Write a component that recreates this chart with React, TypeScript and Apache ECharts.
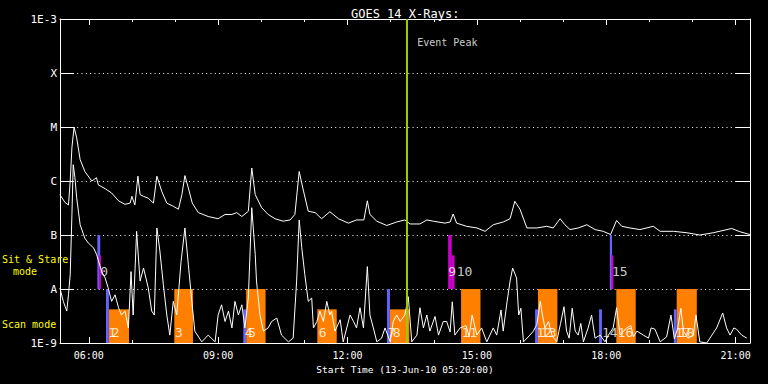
import React, { useEffect, useRef } from 'react';
import * as echarts from 'echarts';

const FONT = 'DejaVu Sans Mono';

// Axis definitions
const axisStart = '05:20';
const axisEnd = '21:20';
const xTickHours = [6, 9, 12, 15, 18, 21];
const xHourTicks = [6, 7, 8, 9, 10, 11, 12, 13, 14, 15, 16, 17, 18, 19, 20, 21];
const yTickLabels = ['1E-9', 'A', 'B', 'C', 'M', 'X', '1E-3'];
const yMin = 1e-9;
const yMax = 1e-3;

// GOES 14 long channel (1-8 A), [hour, W/m^2]
const longChannel: [number, number][] = [
  [5.33, 5.6e-7], [5.45, 4.0e-7], [5.53, 3.6e-7], [5.57, 1.0e-6], [5.61, 4.2e-6], [5.66, 1.0e-5],
  [5.72, 6.3e-6], [5.8, 2.5e-6], [5.91, 1.5e-6], [6.07, 1.0e-6], [6.18, 1.15e-6], [6.22, 8.5e-7],
  [6.38, 7.2e-7], [6.53, 6.0e-7], [6.69, 4.3e-7], [6.84, 3.7e-7], [6.96, 3.9e-7], [7.0, 5.2e-7],
  [7.07, 3.6e-7], [7.14, 1.23e-6], [7.19, 5.6e-7], [7.27, 5.2e-7], [7.38, 4.8e-7], [7.5, 3.9e-7],
  [7.58, 1.23e-6], [7.69, 6.5e-7], [7.81, 3.9e-7], [7.96, 3.4e-7], [8.08, 3.0e-7], [8.16, 5.6e-7],
  [8.23, 1.26e-6], [8.31, 7.4e-7], [8.4, 3.9e-7], [8.54, 2.6e-7], [8.77, 2.2e-7], [9.0, 2.0e-7],
  [9.16, 2.4e-7], [9.32, 2.4e-7], [9.43, 2.6e-7], [9.55, 2.2e-7], [9.7, 2.75e-7], [9.78, 1.74e-6],
  [9.86, 5.6e-7], [10.01, 3.2e-7], [10.16, 2.4e-7], [10.32, 2.0e-7], [10.51, 1.8e-7], [10.67, 1.9e-7],
  [10.78, 2.4e-7], [10.88, 1.5e-6], [10.98, 6.5e-7], [11.09, 2.75e-7], [11.25, 2.6e-7], [11.4, 2.0e-7],
  [11.59, 2.7e-7], [11.79, 2.0e-7], [12.02, 1.66e-7], [12.21, 1.9e-7], [12.38, 1.9e-7], [12.46, 4.3e-7],
  [12.52, 2.4e-7], [12.68, 1.8e-7], [12.91, 1.5e-7], [13.14, 1.74e-7], [13.33, 1.9e-7], [13.45, 1.6e-7],
  [13.68, 1.6e-7], [13.84, 1.9e-7], [13.99, 1.8e-7], [14.26, 1.66e-7], [14.38, 1.74e-7], [14.45, 2.45e-7],
  [14.53, 1.66e-7], [14.76, 1.45e-7], [15.0, 1.35e-7], [15.19, 1.17e-7], [15.38, 1.55e-7], [15.61, 1.74e-7],
  [15.77, 2.0e-7], [15.88, 4.2e-7], [16.0, 3.0e-7], [16.16, 1.35e-7], [16.39, 1.35e-7], [16.62, 1.45e-7],
  [16.77, 1.35e-7], [16.93, 2.0e-7], [17.04, 1.55e-7], [17.16, 1.26e-7], [17.35, 1.35e-7], [17.55, 1.55e-7],
  [17.74, 1.26e-7], [17.93, 1.17e-7], [18.1, 1.02e-7], [18.24, 1.86e-7], [18.36, 1.45e-7], [18.55, 1.35e-7],
  [18.78, 1.26e-7], [19.09, 1.45e-7], [19.25, 1.17e-7], [19.56, 1.17e-7], [19.87, 1.1e-7], [20.17, 1.0e-7],
  [20.48, 1.1e-7], [20.91, 1.32e-7], [21.1, 1.15e-7], [21.33, 1.02e-7],
];

// GOES 14 short channel (0.5-4 A), [hour, W/m^2]
const shortChannel: [number, number][] = [
  [5.33, 1.05e-8], [5.41, 5.9e-9], [5.49, 3.9e-9], [5.53, 7.8e-9], [5.57, 1.86e-8], [5.61, 2.4e-7],
  [5.64, 2.0e-6], [5.68, 1.15e-6], [5.72, 4.9e-7], [5.8, 1.55e-7], [5.91, 8.7e-8], [5.99, 7.1e-8],
  [6.11, 5.8e-8], [6.18, 4.4e-8], [6.3, 2.1e-8], [6.38, 1.6e-8], [6.45, 1.05e-8], [6.53, 5.9e-9],
  [6.61, 7.8e-9], [6.69, 4.5e-9], [6.76, 3.3e-9], [6.84, 3.9e-9], [6.92, 1.9e-9], [6.98, 2.1e-8],
  [7.03, 3.3e-9], [7.11, 1.17e-7], [7.19, 1.4e-8], [7.27, 2.45e-8], [7.38, 1.05e-8], [7.46, 3.9e-9],
  [7.52, 3.3e-9], [7.58, 1.35e-7], [7.65, 5.0e-8], [7.73, 1.2e-8], [7.81, 3.3e-9], [7.88, 1.4e-9],
  [7.96, 5.9e-9], [8.04, 3.3e-9], [8.14, 3.2e-8], [8.23, 1.35e-7], [8.31, 2.8e-8], [8.39, 5.9e-9],
  [8.46, 1.66e-9], [8.62, 1.05e-9], [8.77, 1.4e-9], [8.93, 1.05e-9], [9.0, 3.3e-9], [9.08, 5.1e-9],
  [9.16, 2.5e-9], [9.24, 3.9e-9], [9.32, 1.9e-9], [9.39, 5.9e-9], [9.47, 3.3e-9], [9.55, 5.1e-9],
  [9.62, 1.9e-9], [9.7, 6.8e-9], [9.78, 3.2e-7], [9.86, 4.4e-8], [9.89, 1.4e-8], [9.97, 3.3e-9],
  [10.05, 1.66e-9], [10.16, 1.9e-9], [10.24, 2.5e-9], [10.36, 2.9e-9], [10.47, 1.4e-9], [10.63, 1.05e-9],
  [10.74, 1.23e-9], [10.82, 1.4e-8], [10.88, 1.9e-7], [10.94, 5.8e-8], [11.01, 1.86e-8], [11.09, 5.9e-9],
  [11.17, 6.8e-9], [11.21, 1.9e-9], [11.29, 2.5e-9], [11.36, 3.9e-9], [11.44, 2.5e-9], [11.52, 5.9e-9],
  [11.59, 3.3e-9], [11.63, 3.9e-9], [11.71, 1.66e-9], [11.83, 2.7e-9], [11.9, 1.05e-9], [12.06, 3.3e-9],
  [12.14, 2.5e-9], [12.21, 1.9e-9], [12.29, 4.5e-9], [12.37, 1.9e-9], [12.46, 2.6e-8], [12.52, 3.3e-9],
  [12.6, 1.9e-9], [12.68, 1.05e-9], [12.79, 1.23e-9], [12.87, 1.9e-9], [12.99, 1.05e-9], [13.06, 2.5e-9],
  [13.14, 3.3e-9], [13.22, 2.5e-9], [13.33, 3.3e-9], [13.41, 7.2e-9], [13.49, 1.05e-9], [13.61, 1.4e-9],
  [13.68, 4.5e-9], [13.76, 1.9e-9], [13.84, 3.3e-9], [13.91, 1.66e-9], [14.03, 3.1e-9], [14.11, 1.4e-9],
  [14.22, 2.5e-9], [14.3, 2.5e-9], [14.38, 1.6e-9], [14.43, 5.8e-9], [14.49, 1.4e-9], [14.61, 1.9e-9],
  [14.75, 2.1e-9], [14.82, 1.3e-9], [14.89, 3.3e-9], [15.0, 1.4e-9], [15.11, 1.9e-9], [15.23, 1.05e-9],
  [15.38, 1.9e-9], [15.46, 1.4e-9], [15.56, 4.1e-9], [15.61, 1.66e-9], [15.7, 5.8e-9], [15.77, 1.4e-8],
  [15.83, 2.45e-8], [15.92, 1.6e-8], [15.97, 3.3e-9], [16.02, 4.4e-9], [16.08, 1.05e-9], [16.23, 1.4e-9],
  [16.31, 1.66e-9], [16.39, 2.2e-9], [16.47, 5.9e-9], [16.52, 3.3e-9], [16.58, 1.9e-9], [16.66, 2.5e-9],
  [16.74, 1.4e-9], [16.85, 1.05e-9], [16.94, 2.3e-9], [17.02, 4.7e-9], [17.08, 1.66e-9], [17.14, 1.23e-9],
  [17.21, 4.4e-9], [17.28, 1.66e-9], [17.35, 1.4e-9], [17.41, 2.3e-9], [17.47, 1.05e-9], [17.58, 1.9e-9],
  [17.66, 3.3e-9], [17.74, 1.23e-9], [17.86, 1.4e-9], [17.97, 1.05e-9], [18.05, 1.4e-9], [18.16, 1.9e-9],
  [18.24, 4.5e-9], [18.32, 1.4e-9], [18.47, 1.9e-9], [18.57, 2.1e-9], [18.63, 1.3e-9], [18.71, 1.66e-9],
  [18.86, 1.4e-9], [18.98, 1.23e-9], [19.04, 1.9e-9], [19.13, 1.8e-9], [19.25, 1.05e-9], [19.4, 1.3e-9],
  [19.5, 3.3e-9], [19.58, 1.2e-9], [19.66, 1.9e-9], [19.73, 4.4e-9], [19.79, 1.66e-9], [19.9, 1.23e-9],
  [20.02, 1.4e-9], [20.08, 3.3e-9], [20.17, 1.05e-9], [20.33, 1.0e-9], [20.45, 1.4e-9], [20.56, 1.9e-9],
  [20.7, 3.6e-9], [20.79, 1.9e-9], [20.87, 1.4e-9], [20.96, 1.9e-9], [21.02, 1.8e-9], [21.14, 1.4e-9],
  [21.26, 1.23e-9],
];

// Observation bars: [start, end, low, high]
const scanRuns: [string, string, number, number][] = [
  ['06:28', '06:56', 1e-9, 4.2e-9],
  ['07:59', '08:25', 1e-9, 1e-8],
  ['09:39', '10:06', 1e-9, 1e-8],
  ['11:18', '11:45', 1e-9, 4.2e-9],
  ['12:59', '13:26', 1e-9, 4.2e-9],
  ['14:38', '15:05', 1e-9, 1e-8],
  ['16:25', '16:52', 1e-9, 1e-8],
  ['18:14', '18:41', 1e-9, 1e-8],
  ['19:38', '20:06', 1e-9, 1e-8],
];
const scanStarts: [string, string, number, number][] = [
  ['06:24', '06:28', 1e-9, 1e-8],
  ['09:35', '09:39', 1e-9, 4.2e-9],
  ['12:55', '12:59', 1e-9, 1e-8],
  ['16:21', '16:25', 1e-9, 4.2e-9],
  ['17:50', '17:54', 1e-9, 4.2e-9],
  ['19:34', '19:38', 1e-9, 4.2e-9],
];
const sitStareBlue: [string, string, number, number][] = [
  ['06:12', '06:16', 1e-8, 1e-7],
  ['18:05', '18:08', 1e-8, 1e-7],
];
const sitStareMagenta: [string, string, number, number][] = [
  ['06:14', '06:17', 1e-8, 4.2e-8],
  ['14:20', '14:25', 1e-8, 1e-7],
  ['14:25', '14:29', 1e-8, 4.2e-8],
  ['18:07', '18:10', 1e-8, 4.2e-8],
];

// Event number labels: [text, time]
const scanLabels: [string, string][] = [
  ['1', '06:27'], ['2', '06:32'], ['3', '08:00'], ['4', '09:37'], ['5', '09:42'], ['6', '11:20'],
  ['7', '12:56'], ['8', '13:03'], ['11', '14:39'], ['12', '16:23'], ['13', '16:29'], ['14', '17:54'],
  ['16', '18:16'], ['17', '19:36'], ['18', '19:41'],
];
const sitStareLabels: [string, string][] = [
  ['0', '06:16'], ['9', '14:20'], ['10', '14:32'], ['15', '18:08'],
];
const scanLabelLevel = 1.55e-9;
const sitStareLabelLevel = 2.1e-8;

const eventPeak = '13:22';
const eventPeakLabelTime = '13:37';
const eventPeakLabelLevel = 3.7e-4;

function toHour(s: string): number {
  const [h, m] = s.split(':').map(Number);
  return h + m / 60;
}

const pad = (n: number) => (n < 10 ? '0' + n : String(n));

function rectSeries(data: [string, string, number, number][], color: string) {
  return {
    type: 'custom',
    xAxisIndex: 0,
    yAxisIndex: 0,
    silent: true,
    z: 2,
    data: data.map(([s, e, lo, hi]) => [toHour(s), toHour(e), lo, hi]),
    encode: { x: [0, 1], y: [2, 3] },
    renderItem: (_params: any, api: any) => {
      const p0 = api.coord([api.value(0), api.value(3)]);
      const p1 = api.coord([api.value(1), api.value(2)]);
      return {
        type: 'rect',
        shape: { x: p0[0], y: p0[1], width: p1[0] - p0[0], height: p1[1] - p0[1] },
        style: { fill: color },
      };
    },
  };
}

function labelSeries(labels: [string, string][], level: number, size: number) {
  return {
    type: 'scatter',
    xAxisIndex: 0,
    yAxisIndex: 0,
    symbolSize: 0,
    silent: true,
    z: 6,
    data: labels.map(([txt, t]) => ({ name: txt, value: [toHour(t), level] })),
    label: {
      show: true,
      position: 'right',
      distance: 0,
      formatter: '{b}',
      color: '#fff',
      fontSize: size,
      fontFamily: FONT,
    },
  };
}

export default function App() {
  const ref = useRef<HTMLDivElement>(null);

  useEffect(() => {
    if (!ref.current) return;
    const chart = echarts.init(ref.current, null, { renderer: 'svg' });
    const xMin = toHour(axisStart);
    const xMax = toHour(axisEnd);
    const white = '#ffffff';

    const option: any = {
      animation: false,
      backgroundColor: '#000000',
      textStyle: { fontFamily: FONT },
      title: {
        text: 'GOES 14 X-Rays:',
        left: 346,
        top: 3,
        textStyle: { color: white, fontSize: 12, fontWeight: 'normal', fontFamily: FONT },
      },
      grid: [
        { left: 60, right: 18, top: 19, bottom: 41 },
        { left: 60, right: 18, top: 19, bottom: 41 },
      ],
      xAxis: [
        {
          gridIndex: 0,
          type: 'value',
          position: 'bottom',
          min: xMin,
          max: xMax,
          axisLine: { show: true, lineStyle: { color: white, width: 1 } },
          axisTick: { show: true, inside: true, length: 6, customValues: xTickHours, lineStyle: { color: white } },
          axisLabel: {
            show: true,
            customValues: xTickHours,
            formatter: (v: number) => pad(Math.round(v)) + ':00',
            color: white,
            fontSize: 10,
            margin: 7,
            fontFamily: FONT,
          },
          splitLine: { show: false },
          name: 'Start Time (13-Jun-10 05:20:00)',
          nameLocation: 'middle',
          nameGap: 20,
          nameTextStyle: { color: white, fontSize: 9.5, fontFamily: FONT },
        },
        {
          gridIndex: 0,
          type: 'value',
          position: 'top',
          min: xMin,
          max: xMax,
          axisLine: { show: true, lineStyle: { color: white, width: 1 } },
          axisTick: { show: true, inside: true, length: 6, customValues: xTickHours, lineStyle: { color: white } },
          axisLabel: { show: false },
          splitLine: { show: false },
        },
        {
          gridIndex: 1,
          type: 'value',
          position: 'bottom',
          min: xMin,
          max: xMax,
          axisLine: { show: false },
          axisTick: { show: true, inside: true, length: 3, customValues: xHourTicks, lineStyle: { color: white } },
          axisLabel: { show: false },
          splitLine: { show: false },
        },
        {
          gridIndex: 1,
          type: 'value',
          position: 'top',
          min: xMin,
          max: xMax,
          axisLine: { show: false },
          axisTick: { show: true, inside: true, length: 3, customValues: xHourTicks, lineStyle: { color: white } },
          axisLabel: { show: false },
          splitLine: { show: false },
        },
      ],
      yAxis: [
        {
          gridIndex: 0,
          type: 'log',
          logBase: 10,
          min: yMin,
          max: yMax,
          splitNumber: 6,
          position: 'left',
          axisLine: { show: true, lineStyle: { color: white, width: 1 } },
          axisTick: { show: true, inside: true, length: 14, lineStyle: { color: white } },
          axisLabel: {
            formatter: (v: number) => yTickLabels[Math.round(Math.log10(v)) + 9] ?? '',
            color: white,
            fontSize: 11,
            margin: 3,
            fontFamily: FONT,
          },
          splitLine: { show: true, lineStyle: { color: white, width: 1, type: [1, 3.3] } },
        },
        {
          gridIndex: 0,
          type: 'log',
          logBase: 10,
          min: yMin,
          max: yMax,
          splitNumber: 6,
          position: 'right',
          axisLine: { show: true, lineStyle: { color: white, width: 1 } },
          axisTick: { show: true, inside: true, length: 14, lineStyle: { color: white } },
          axisLabel: { show: false },
          splitLine: { show: false },
        },
        { gridIndex: 1, type: 'value', show: false, min: 0, max: 1 },
      ],
      graphic: [
        { type: 'text', x: 2, y: 259, style: { text: 'Sit & Stare', fill: '#ffff00', font: `10px "${FONT}"`, verticalAlign: 'middle' } },
        { type: 'text', x: 13, y: 271, style: { text: 'mode', fill: '#ffff00', font: `10px "${FONT}"`, verticalAlign: 'middle' } },
        { type: 'text', x: 2, y: 324, style: { text: 'Scan mode', fill: '#ffff00', font: `10px "${FONT}"`, verticalAlign: 'middle' } },
      ],
      series: [
        rectSeries(scanRuns, '#ff8000'),
        rectSeries(scanStarts, '#6464ff'),
        rectSeries(sitStareBlue, '#6464ff'),
        rectSeries(sitStareMagenta, '#c800c8'),
        {
          type: 'line',
          name: '1-8 A',
          xAxisIndex: 0,
          yAxisIndex: 0,
          data: longChannel,
          showSymbol: false,
          silent: true,
          z: 3,
          lineStyle: { color: white, width: 1 },
        },
        {
          type: 'line',
          name: '0.5-4 A',
          xAxisIndex: 0,
          yAxisIndex: 0,
          data: shortChannel,
          showSymbol: false,
          silent: true,
          z: 3,
          lineStyle: { color: white, width: 1 },
          markLine: {
            silent: true,
            symbol: 'none',
            label: { show: false },
            lineStyle: { color: '#99cc00', width: 2, type: 'solid' },
            data: [{ xAxis: toHour(eventPeak) }],
          },
        },
        labelSeries(scanLabels, scanLabelLevel, 13),
        labelSeries(sitStareLabels, sitStareLabelLevel, 13),
        labelSeries([['Event Peak', eventPeakLabelTime]], eventPeakLabelLevel, 10),
      ],
    };

    chart.setOption(option);
    return () => chart.dispose();
  }, []);

  return (
    <div
      ref={ref}
      style={{ position: 'absolute', left: 0, top: 0, width: 768, height: 384, background: '#000' }}
    />
  );
}
